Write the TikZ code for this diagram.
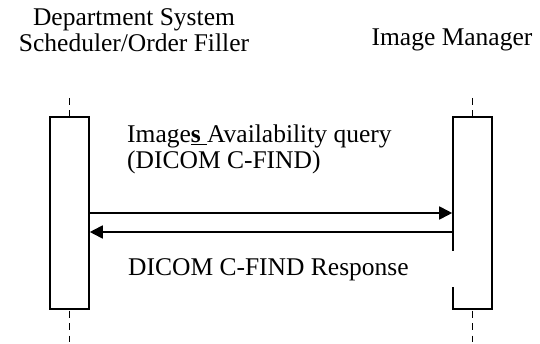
\documentclass[tikz,border=0pt]{standalone}
\usepackage{fontspec}
\setmainfont{Liberation Serif}
\usetikzlibrary{arrows.meta}
\begin{document}
\begin{tikzpicture}[x=1pt,y=-1pt,
  lbl/.style={inner sep=0pt, font=\fontsize{25.5}{26}\selectfont},
  actbox/.style={draw=black, line width=1.6pt, fill=white, minimum width=39pt, minimum height=192pt, inner sep=0pt},
  life/.style={line width=1.6pt, dash pattern=on 7pt off 5.5pt},
  msg/.style={line width=1.8pt, -{Triangle[length=13pt,width=13pt]}}]
\useasboundingbox (0,0) rectangle (540,344);
% lifelines
\coordinate (ltop) at (69.5,98);
\coordinate (lbot) at (69.5,342);
\coordinate (rtop) at (472.5,98);
\coordinate (rbot) at (472.5,342);
\draw[life] (ltop) -- (lbot);
\draw[life] (rtop) -- (rbot);
% activation boxes
\node[actbox] (lbox) at (69.5,212.75) {};
\node[actbox] (rbox) at (472.5,212.75) {};
% gap in right box edge (as in reference)
\coordinate (g1) at (453,251);
\coordinate (g2) at (453,287);
\draw[white, line width=2.5pt] (g1) -- (g2);
% titles
\node[lbl, align=center, anchor=base] (t1) at (134,52) {Department System\\Scheduler/Order Filler};
\node[lbl, anchor=base] (t2) at (452,46) {Image Manager};
% messages
\draw[msg] (lbox.east |- 0,213) -- (rbox.west |- 0,213);
\draw[msg] (rbox.west |- 0,232) -- (lbox.east |- 0,232);
\node[lbl, align=left, anchor=base west] (q) at (127,169) {Image\textbf{\underline{s\ }}Availability query\\(DICOM C-FIND)};
\node[lbl, anchor=base west] (r) at (128,276) {DICOM C-FIND Response};
\end{tikzpicture}
\end{document}
